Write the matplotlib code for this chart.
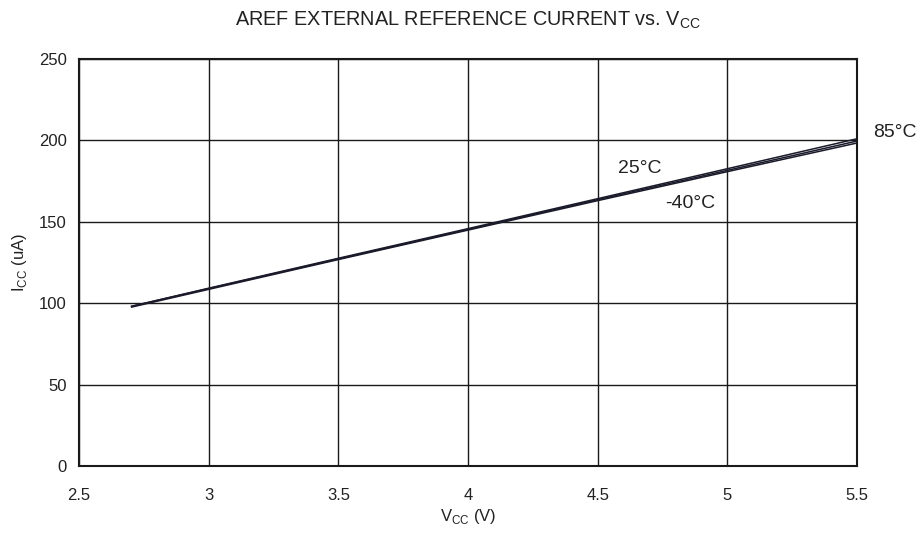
import matplotlib
matplotlib.use("Agg")
import matplotlib.pyplot as plt

plt.rcParams['font.family'] = ['Liberation Sans', 'DejaVu Sans']

vcc = [2.7, 3.0, 3.5, 4.0, 4.5, 5.0, 5.5]
icc_85 = [98.0, 109.2, 127.6, 145.8, 164.2, 182.6, 201.0]
icc_25 = [98.0, 109.0, 127.2, 145.3, 163.6, 181.6, 199.6]
icc_m40 = [97.5, 108.5, 126.8, 144.9, 163.0, 180.8, 198.4]

xticks = [2.5, 3, 3.5, 4, 4.5, 5, 5.5]
xticklabels = ["2.5", "3", "3.5", "4", "4.5", "5", "5.5"]
yticks = [0, 50, 100, 150, 200, 250]

fig = plt.figure(figsize=(9.22, 5.35), dpi=100)
ax = fig.add_axes([79/922, 1-466/535, (857-79)/922, (466-59)/535])

for y in (icc_85, icc_25, icc_m40):
    ax.plot(vcc, y, color='#1a1a2a', lw=1.1, solid_capstyle='butt')

ax.set_xlim(2.5, 5.5)
ax.set_ylim(0, 250)
ax.set_xticks(xticks)
ax.set_xticklabels(xticklabels)
ax.set_yticks(yticks)
ax.grid(True, color='#1a1a1a', lw=1.0)
ax.tick_params(axis='x', length=0, labelsize=12, pad=16, colors='#222222')
ax.tick_params(axis='y', length=0, labelsize=12, pad=9, colors='#222222')
for s in ax.spines.values():
    s.set_linewidth(1.5)
    s.set_color('#1a1a1a')

ax.set_xlabel(r"V$_{\mathregular{CC}}$ (V)", fontsize=12, labelpad=3, color='#222222')
ax.set_ylabel(r"I$_{\mathregular{CC}}$ (uA)", fontsize=12, labelpad=7, color='#222222')
fig.text(468/922, 1-20/535, r"AREF EXTERNAL REFERENCE CURRENT vs. V$_{\mathregular{CC}}$",
         ha='center', va='center', fontsize=14.3, color='#222222')

ax.text(5.562, 205, "85°C", fontsize=14, ha='left', va='center', clip_on=False, color='#222222')
ax.text(4.661, 183, "25°C", fontsize=14, ha='center', va='center', color='#222222')
ax.text(4.856, 161.5, "-40°C", fontsize=14, ha='center', va='center', color='#222222')

fig.savefig("out.png", dpi=100)
